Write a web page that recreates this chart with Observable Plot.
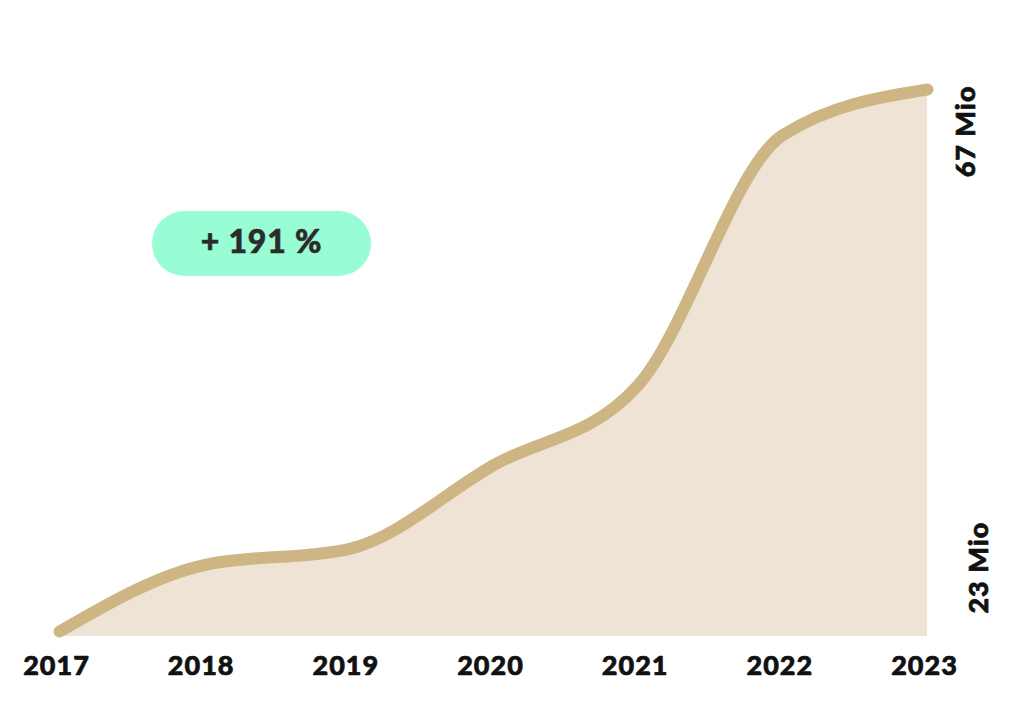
<!DOCTYPE html>
<html>
<head>
<meta charset="utf-8">
<script src="https://cdn.jsdelivr.net/npm/d3@7"></script>
<script src="https://cdn.jsdelivr.net/npm/@observablehq/plot@0.6"></script>
<style>
  html, body { margin: 0; padding: 0; background: #ffffff; }
  #wrap { position: relative; width: 1024px; height: 726px; overflow: hidden; }
  #wrap svg text { letter-spacing: 1px; }
  .badge {
    position: absolute; left: 152px; top: 211px; width: 219px; height: 65px;
    border-radius: 33px; background: #98fcd4;
    display: flex; align-items: center; justify-content: center;
    font-family: Lato, "DejaVu Sans", sans-serif; font-weight: 900; font-size: 32px;
    color: #2b2b2b; letter-spacing: 0.8px; padding-bottom: 6px; box-sizing: border-box;
    -webkit-text-stroke: 0.6px #2b2b2b;
  }
</style>
</head>
<body>
<div id="wrap"></div>
<script>
// Data (values in millions)
const years  = [2017, 2018, 2019, 2020, 2021, 2022, 2023];
const values = [23, 28.4, 29.7, 36.5, 43.0, 63.3, 67];
const yBaseline = 22.6;
const endLabels = [
  {v: 67, label: "67 Mio"},
  {v: 23, label: "23 Mio"}
];
const badgeText = "+ 191 %";

const data = years.map((year, i) => ({year, value: values[i]}));

const lineColor = "#cdb584";
const areaColor = "#efe3d6";
const font = "Lato, 'DejaVu Sans', sans-serif";
const textStyle = {fontSize: 27, fontWeight: 900, fill: "#111111", stroke: "#111111", strokeWidth: 0.7, lineAnchor: "middle"};

const chart = Plot.plot({
  width: 1024,
  height: 726,
  marginLeft: 59,
  marginRight: 97,
  marginTop: 89,
  marginBottom: 90,
  style: {fontFamily: font, background: "transparent"},
  x: {domain: [2017, 2023], axis: null},
  y: {domain: [yBaseline, 67], axis: null},
  marks: [
    Plot.areaY(data, {x: "year", y1: yBaseline, y2: "value", curve: "monotone-x", fill: areaColor}),
    Plot.lineY(data, {x: "year", y: "value", curve: "monotone-x", stroke: lineColor, strokeWidth: 12, strokeLinecap: "round", strokeLinejoin: "round"}),
    Plot.text(years, {x: d => d, frameAnchor: "bottom", dy: 30, dx: -3, text: d => String(d), ...textStyle}),
    Plot.text(endLabels.slice(0, 1), {x: () => 2023, y: "v", text: "label", rotate: -90, textAnchor: "end", dx: 39, dy: -4, ...textStyle}),
    Plot.text(endLabels.slice(1), {x: () => 2023, y: "v", text: "label", rotate: -90, textAnchor: "start", dx: 52, dy: -18, ...textStyle})
  ]
});

const wrap = document.getElementById("wrap");
wrap.appendChild(chart);
const badge = document.createElement("div");
badge.className = "badge";
badge.textContent = badgeText;
wrap.appendChild(badge);
</script>
</body>
</html>
